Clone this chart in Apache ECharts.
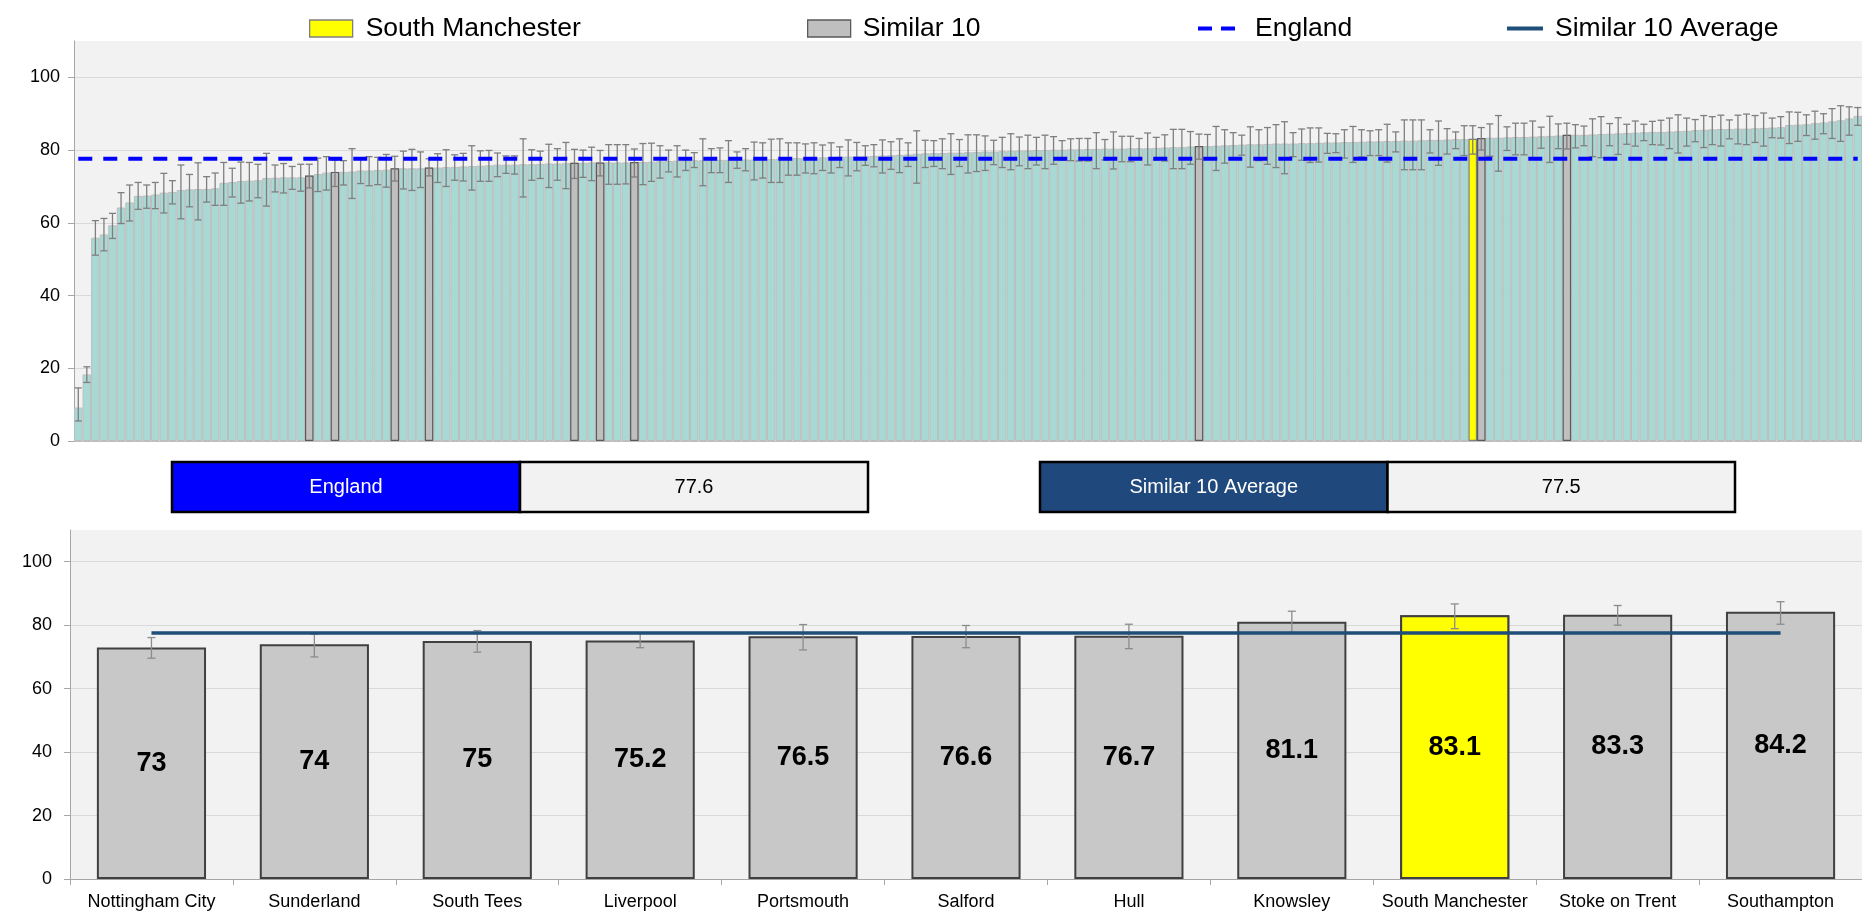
<!DOCTYPE html>
<html>
<head>
<meta charset="utf-8">
<script src="https://cdn.jsdelivr.net/npm/echarts@6/dist/echarts.min.js"></script>
<style>
html,body{margin:0;padding:0;background:#ffffff;}
#chart{width:1862px;height:915px;}
</style>
</head>
<body>
<div id="chart"></div>
<script>
// ---------- DATA ----------
// Top chart: all areas, sorted ascending
const allValues = [
 9.2,18.3,55.9,56.8,59.3,64.2,65.6,67.4,67.5,67.8,
 68.3,68.5,69.0,69.2,69.3,69.3,69.5,71.0,71.2,71.5,
 71.6,71.7,72.3,72.4,72.5,72.5,72.5,73.0,73.4,73.8,
 74.0,74.0,74.1,74.4,74.4,74.5,74.6,75.0,75.0,75.0,
 75.0,75.2,75.2,75.3,75.4,75.5,75.6,75.7,75.8,76.0,
 76.0,76.0,76.1,76.1,76.2,76.3,76.3,76.4,76.5,76.5,
 76.6,76.6,76.6,76.6,76.6,76.7,76.7,76.8,76.9,77.0,
 77.1,77.2,77.2,77.2,77.3,77.3,77.3,77.4,77.4,77.4,
 77.5,77.5,77.6,77.7,77.8,77.8,77.9,78.0,78.1,78.2,
 78.2,78.3,78.3,78.4,78.5,78.6,78.7,78.8,79.0,79.1,
 79.2,79.2,79.3,79.3,79.4,79.5,79.6,79.6,79.7,79.8,
 79.9,79.9,80.0,80.0,80.1,80.1,80.2,80.2,80.3,80.3,
 80.4,80.4,80.4,80.5,80.5,80.5,80.6,80.7,80.8,80.8,
 81.0,81.1,81.1,81.2,81.3,81.4,81.5,81.6,81.6,81.7,
 81.8,81.8,81.8,81.9,81.9,82.0,82.1,82.1,82.2,82.2,
 82.3,82.4,82.4,82.5,82.5,82.6,82.6,82.7,82.8,82.8,
 82.9,83.0,83.0,83.1,83.3,83.4,83.4,83.5,83.6,83.6,
 83.7,83.8,83.9,84.0,84.2,84.2,84.2,84.3,84.4,84.5,
 84.6,84.7,84.8,84.9,85.0,85.0,85.1,85.2,85.3,85.5,
 85.6,85.7,85.8,85.8,85.9,85.9,86.0,86.1,86.2,86.3,
 86.9,87.0,87.1,87.4,87.6,87.9,88.2,88.7,89.4
];
const allLower = [
 5.5,16.1,51.1,52.3,55.7,59.8,60.5,63.7,64.0,63.9,
 62.7,65.2,61.1,64.4,60.8,65.7,64.8,64.8,67.1,65.4,
 66.0,66.9,64.6,68.5,68.2,69.2,68.7,69.6,68.6,69.0,
 70.0,70.4,66.7,70.8,70.2,70.5,69.8,71.5,69.3,68.9,
 69.7,72.9,71.1,70.0,71.7,71.5,69.0,71.4,71.4,72.7,
 73.6,73.4,67.1,71.7,72.2,69.7,71.7,69.4,72.2,72.5,
 71.6,72.9,70.6,70.6,70.7,72.6,70.5,71.4,72.3,74.0,
 72.6,74.4,75.2,70.2,73.8,73.8,71.1,75.0,74.3,71.8,
 72.3,71.1,71.1,73.1,73.1,73.7,73.5,74.4,73.7,75.2,
 72.9,74.3,75.8,75.4,73.7,74.7,73.8,75.5,70.9,75.2,
 75.5,74.9,73.3,75.5,73.7,74.1,74.4,76.0,75.2,74.6,
 75.7,74.9,75.9,74.9,76.1,77.2,77.1,77.0,77.0,74.9,
 77.3,74.8,76.8,76.8,77.7,75.9,77.3,77.0,74.9,74.9,
 76.1,77.5,77.7,74.4,76.4,77.7,78.6,75.3,77.1,76.1,
 75.2,73.5,78.2,77.2,76.6,76.7,79.1,79.3,77.8,76.6,
 78.1,78.5,78.5,76.7,79.5,74.6,74.6,74.6,79.2,75.8,
 78.9,80.4,78.5,78.9,80.0,78.3,74.2,79.9,78.7,78.7,
 77.6,80.5,76.6,80.4,80.3,80.6,81.2,78.2,77.9,81.2,
 78.8,81.6,81.1,82.6,81.5,81.4,80.4,79.2,81.1,82.3,
 80.7,81.5,81.1,83.1,81.7,81.5,82.1,81.1,83.4,83.3,
 81.8,82.4,84.0,83.0,84.5,83.2,82.4,84.1,86.8
];
const allUpper = [
 14.6,20.4,60.6,61.2,62.6,68.3,70.4,71.1,70.4,71.1,
 73.6,71.6,75.9,73.3,76.5,72.7,73.7,76.6,75.0,76.7,
 76.6,76.1,79.1,75.9,76.3,75.5,76.1,76.1,77.8,78.2,
 77.2,77.1,80.4,77.5,78.2,78.0,78.8,78.3,79.7,80.2,
 79.5,77.6,79.0,80.1,78.7,79.1,81.2,79.8,79.9,79.2,
 78.4,78.4,83.1,80.1,79.7,81.6,80.4,82.1,80.2,80.0,
 80.8,79.9,81.5,81.5,81.5,80.3,81.8,81.9,81.2,80.0,
 81.2,80.0,79.3,83.1,80.4,80.6,82.6,79.5,80.4,82.2,
 82.0,83.0,83.1,82.0,82.0,81.7,82.0,81.4,82.0,80.9,
 82.8,82.1,81.2,81.5,82.8,82.3,83.1,82.0,85.3,82.7,
 82.6,83.1,84.5,82.9,84.2,84.2,83.9,82.7,83.5,84.5,
 83.6,84.1,83.5,84.1,83.7,82.6,83.1,83.2,83.2,84.8,
 82.9,85.0,83.8,83.8,83.2,84.7,83.5,84.2,85.7,85.7,
 85.1,84.4,84.3,86.5,85.6,84.8,84.1,86.4,85.6,86.2,
 87.0,87.8,84.8,85.8,86.1,86.1,84.6,84.5,85.6,86.5,
 85.6,85.3,85.6,87.1,85.0,88.3,88.3,88.3,85.6,88.0,
 85.9,85.0,86.7,86.7,86.2,87.2,89.5,86.4,87.4,87.4,
 88.0,86.3,89.3,87.2,87.4,87.0,86.6,88.6,89.2,87.3,
 88.9,87.1,88.0,87.1,87.9,88.2,88.8,89.7,88.8,88.4,
 89.5,89.2,89.6,88.3,89.6,89.9,89.5,90.2,88.8,89.2,
 90.5,90.4,89.7,90.7,90.0,91.4,92.2,91.9,91.7
];
// positions (in the sorted list) of the highlighted areas
const similarIndex = [27, 30, 37, 41, 58, 61, 65, 131, 164, 174];
const southManIndex = [163];

const englandValue = 77.6;
const similarAverage = 77.5;

// Bottom chart: similar 10 + South Manchester
const similarNames = ['Nottingham City','Sunderland','South Tees','Liverpool','Portsmouth','Salford','Hull','Knowsley','South Manchester','Stoke on Trent','Southampton'];
const similarValues = [73, 74, 75, 75.2, 76.5, 76.6, 76.7, 81.1, 83.1, 83.3, 84.2];
const similarLower  = [69.6, 70.0, 71.5, 72.9, 72.2, 72.9, 72.6, 77.7, 78.9, 80.0, 80.3];
const similarUpper  = [76.1, 77.2, 78.3, 77.5, 80.2, 79.9, 80.3, 84.4, 86.7, 86.2, 87.4];
const highlightName = 'South Manchester';

const yMin = 0, yMax = 110, yStep = 20;

// ---------- BUILD ----------
const FONT = '"Liberation Sans", Arial, sans-serif';
const topCats = allValues.map((_, i) => String(i + 1));
const topGray = allValues.map((v, i) => similarIndex.includes(i) ? v : '-');
const topYellow = allValues.map((v, i) => southManIndex.includes(i) ? v : '-');
const topErr = allValues.map((v, i) => [i, allLower[i], allUpper[i]]);
const topEngland = topCats.map(() => englandValue);

const botYellow = similarNames.map((n, i) => n === highlightName ? similarValues[i] : '-');
const botErr = similarNames.map((n, i) => [i, similarLower[i], similarUpper[i]]);
const botAvg = similarNames.map(() => similarAverage);

function errRender(capHalf, color, lw) {
  return function (params, api) {
    const x = api.value(0);
    const lo = api.coord([x, api.value(1)]);
    const hi = api.coord([x, api.value(2)]);
    const st = { stroke: color, lineWidth: lw };
    return {
      type: 'group',
      children: [
        { type: 'line', shape: { x1: lo[0], y1: lo[1], x2: hi[0], y2: hi[1] }, style: st },
        { type: 'line', shape: { x1: hi[0] - capHalf, y1: hi[1], x2: hi[0] + capHalf, y2: hi[1] }, style: st },
        { type: 'line', shape: { x1: lo[0] - capHalf, y1: lo[1], x2: lo[0] + capHalf, y2: lo[1] }, style: st }
      ]
    };
  };
}

// split lines: visible for 0..100, hidden for the top edge (110)
const splitColors = ['#D9D9D9','#D9D9D9','#D9D9D9','#D9D9D9','#D9D9D9','#D9D9D9','rgba(0,0,0,0)'];

const yAxisCommon = {
  type: 'value', min: yMin, max: yMax, interval: yStep,
  axisLine: { show: true, lineStyle: { color: '#A6A6A6', width: 1 } },
  axisTick: { show: true, length: 6, lineStyle: { color: '#A6A6A6' } },
  axisLabel: { showMaxLabel: false, color: '#000', fontSize: 18, fontFamily: FONT, margin: 14 },
  splitLine: { show: true, lineStyle: { color: splitColors, width: 1 } }
};

const chart = echarts.init(document.getElementById('chart'), null, { renderer: 'canvas' });

function legendItem(name, left, w, h, pad, icon) {
  return {
    data: [{ name: name, icon: icon }], left: left, top: 10, itemWidth: w, itemHeight: h,
    selectedMode: false,
    itemStyle: { borderWidth: icon === 'rect' ? 1.3 : 0 },
    textStyle: { fontSize: 26.5, fontFamily: FONT, color: '#000', padding: [0, 0, 0, pad] }
  };
}

const boxTop = 462, boxH = 50;
function infoBox(x, w, fill, label, value) {
  return [
    { type: 'rect', shape: { x: x, y: boxTop, width: w, height: boxH },
      style: { fill: fill, stroke: '#000', lineWidth: 2.5 } },
    { type: 'text', x: x + w / 2, y: boxTop + boxH / 2,
      style: { text: label, fill: '#fff', fontSize: 20, fontFamily: FONT, align: 'center', verticalAlign: 'middle' } },
    { type: 'rect', shape: { x: x + w, y: boxTop, width: w, height: boxH },
      style: { fill: '#F2F2F2', stroke: '#000', lineWidth: 2.5 } },
    { type: 'text', x: x + w * 1.5, y: boxTop + boxH / 2,
      style: { text: value.toFixed(1), fill: '#000', fontSize: 20, fontFamily: FONT, align: 'center', verticalAlign: 'middle' } }
  ];
}

const option = {
  backgroundColor: '#ffffff',
  animation: false,
  textStyle: { fontFamily: FONT },
  legend: [
    legendItem('South Manchester', 304, 43, 17, 8, 'rect'),
    legendItem('Similar 10', 802, 43, 17, 7, 'rect'),
    legendItem('England', 1193, 37, 4, 15, 'path://M0 0H14V4H0Z M23 0H37V4H23Z'),
    legendItem('Similar 10 Average', 1502, 36, 4, 7, 'path://M0 0H36V4H0Z')
  ],
  grid: [
    { left: 74, right: -6, top: 41, height: 400, show: true, backgroundColor: '#F2F2F2', borderWidth: 0 },
    { left: 70, right: -24, top: 530, height: 349, show: true, backgroundColor: '#F2F2F2', borderWidth: 0 }
  ],
  xAxis: [
    { type: 'category', gridIndex: 0, data: topCats,
      axisLine: { show: true, lineStyle: { color: '#BFBFBF' } },
      axisTick: { show: false }, axisLabel: { show: false }, splitLine: { show: false } },
    { type: 'category', gridIndex: 1, data: similarNames,
      axisLine: { show: true, lineStyle: { color: '#A6A6A6' } },
      axisTick: { show: true, alignWithLabel: false, length: 6, lineStyle: { color: '#A6A6A6' } },
      axisLabel: { color: '#000', fontSize: 18, fontFamily: FONT, margin: 14, interval: 0 } }
  ],
  yAxis: [
    Object.assign({ gridIndex: 0 }, yAxisCommon),
    Object.assign({ gridIndex: 1 }, yAxisCommon, {
      axisLabel: { showMaxLabel: false, color: '#000', fontSize: 18, fontFamily: FONT, margin: 18 }
    })
  ],
  series: [
    { name: 'All', type: 'bar', xAxisIndex: 0, yAxisIndex: 0, data: allValues,
      barWidth: '100%', z: 2,
      itemStyle: { color: '#A8D9D4', borderColor: '#BDBDBD', borderWidth: 1 } },
    { name: 'Similar 10', type: 'bar', xAxisIndex: 0, yAxisIndex: 0, data: topGray,
      barWidth: '100%', barGap: '-100%', z: 3,
      itemStyle: { color: '#BFBFBF', borderColor: '#5A5A5A', borderWidth: 1.2 } },
    { name: 'South Manchester', type: 'bar', xAxisIndex: 0, yAxisIndex: 0, data: topYellow,
      barWidth: '100%', barGap: '-100%', z: 3,
      itemStyle: { color: '#FFFF00', borderColor: '#7F7F7F', borderWidth: 1.2 } },
    { name: 'topErr', type: 'custom', xAxisIndex: 0, yAxisIndex: 0, data: topErr,
      renderItem: errRender(3.5, '#7F7F7F', 1.3), encode: { x: 0, y: [1, 2] }, z: 4, silent: true },
    { name: 'England', type: 'line', xAxisIndex: 0, yAxisIndex: 0, data: topEngland,
      symbol: 'none', z: 5,
      lineStyle: { color: '#0000FF', width: 4, type: [14, 11] },
      itemStyle: { color: '#0000FF' } },

    { name: 'Similar 10', type: 'bar', xAxisIndex: 1, yAxisIndex: 1, data: similarValues,
      barWidth: '67%', z: 2,
      itemStyle: { color: '#C8C8C8', borderColor: '#404040', borderWidth: 2 },
      label: { show: true, position: 'inside', color: '#000', fontSize: 27, fontWeight: 'bold', fontFamily: FONT } },
    { name: 'South Manchester', type: 'bar', xAxisIndex: 1, yAxisIndex: 1, data: botYellow,
      barWidth: '67%', barGap: '-100%', z: 3,
      itemStyle: { color: '#FFFF00', borderColor: '#404040', borderWidth: 2 },
      label: { show: true, position: 'inside', color: '#000', fontSize: 27, fontWeight: 'bold', fontFamily: FONT } },
    { name: 'botErr', type: 'custom', xAxisIndex: 1, yAxisIndex: 1, data: botErr,
      renderItem: errRender(4, '#8C8C8C', 1.3), encode: { x: 0, y: [1, 2] }, z: 4, silent: true },
    { name: 'Similar 10 Average', type: 'line', xAxisIndex: 1, yAxisIndex: 1, data: botAvg,
      symbol: 'none', z: 5,
      lineStyle: { color: '#1F4E79', width: 3.5 },
      itemStyle: { color: '#1F4E79' } }
  ],
  graphic: [].concat(
    infoBox(172, 348, '#0000FF', 'England', englandValue),
    infoBox(1040, 347.5, '#1F497D', 'Similar 10 Average', similarAverage)
  )
};
chart.setOption(option);
</script>
</body>
</html>
